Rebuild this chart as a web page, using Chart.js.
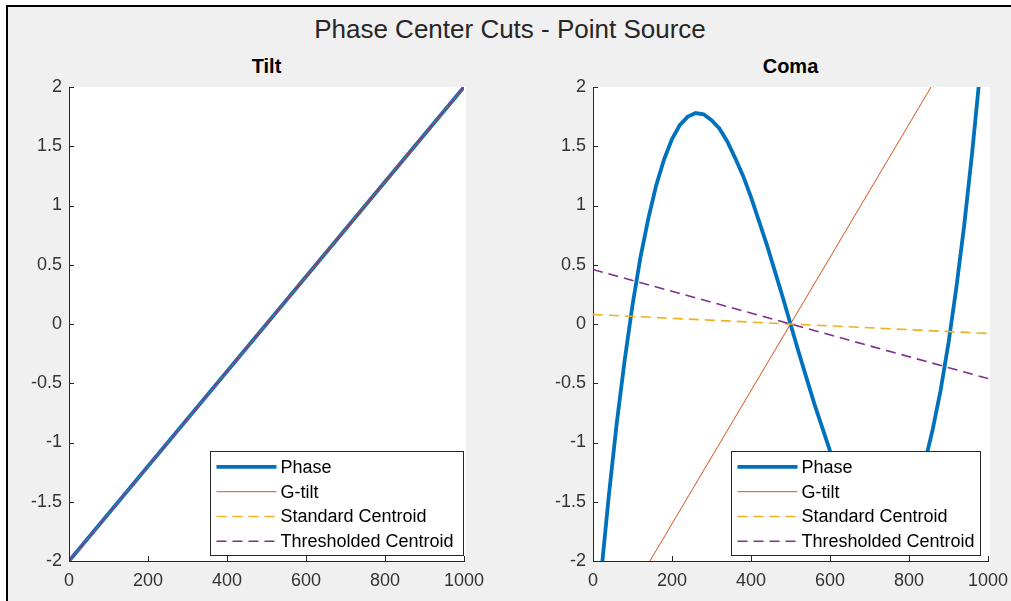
<!DOCTYPE html>
<html><head><meta charset="utf-8">
<script src="https://cdn.jsdelivr.net/npm/chart.js@4"></script>
<style>
html,body{margin:0;padding:0;background:#fff;width:1011px;height:601px;overflow:hidden;}
#fig{position:absolute;left:6px;top:5px;width:1005px;height:596px;background:#f0f0f0;border-left:2px solid #000;border-top:2px solid #000;box-sizing:border-box;}
#title{position:absolute;left:0;top:14px;width:1020px;text-align:center;font:26px "Liberation Sans",Arial,sans-serif;color:#262626;white-space:nowrap;}
.sub{position:absolute;top:55px;text-align:center;font:bold 20px "Liberation Sans",Arial,sans-serif;color:#000;white-space:nowrap;}
canvas{position:absolute;}
</style>
</head><body>
<div id="fig"></div>
<div id="title">Phase Center Cuts - Point Source</div>
<div class="sub" style="left:69px;width:395px;">Tilt</div>
<div class="sub" style="left:593px;width:395px;">Coma</div>
<canvas id="c1" width="495" height="556" style="left:10px;top:45px;"></canvas>
<canvas id="c2" width="500" height="556" style="left:520px;top:45px;"></canvas>
<script>
// ---- data ----
const seriesLabels = ["Phase", "G-tilt", "Standard Centroid", "Thresholded Centroid"];
const xTicks = [0, 200, 400, 600, 800, 1000];
const yTicks = [-2, -1.5, -1, -0.5, 0, 0.5, 1, 1.5, 2];

const tiltX = [0, 1000];
const tiltPhase = [-2, 2];
const tiltGTilt = [-2, 2];
const tiltStandard = [-2, 2];
const tiltThresholded = [-2, 2];

const comaX = [0,20,40,60,80,100,120,140,160,180,200,220,240,260,280,300,320,340,360,380,400,420,440,460,480,500,
  520,540,560,580,600,620,640,660,680,700,720,740,760,780,800,820,840,860,880,900,920,940,960,980,1000];
const comaPhase = [-2.89,-2.13,-1.45,-0.84,-0.31,0.16,0.56,0.89,1.17,1.39,1.56,1.68,1.75,1.78,1.77,1.72,1.65,1.54,1.40,1.25,1.07,0.87,0.67,0.45,0.23,0,
  -0.23,-0.45,-0.67,-0.87,-1.07,-1.25,-1.40,-1.54,-1.65,-1.72,-1.77,-1.78,-1.75,-1.68,-1.56,-1.39,-1.17,-0.89,-0.56,-0.16,0.31,0.84,1.45,2.13,2.89];
const comaLineX = [0, 1000];
const comaGTilt = [-2.81, 2.81];
const comaStandard = [0.08, -0.08];
const comaThresholded = [0.46, -0.46];

const colors = ["#0072BD", "#D95319", "#EDB120", "#7E2F8E"];
const widths = [3.8, 1, 1.6, 1.6];
const dashes = [[], [], [10, 6], [10, 6]];
const axisColor = "#262626";
const fontFam = '"Liberation Sans", Arial, sans-serif';

function pts(xs, ys) { return xs.map((x, i) => ({x: x, y: ys[i]})); }

const bgPlugin = {
  id: 'bg',
  beforeDraw(chart) {
    const a = chart.chartArea, ctx = chart.ctx;
    ctx.save(); ctx.fillStyle = '#fff';
    ctx.fillRect(a.left, a.top, a.right - a.left + 2, a.bottom - a.top);
    ctx.restore();
  }
};

const tickPlugin = {
  id: 'inTicks',
  afterDraw(chart) {
    const ctx = chart.ctx, a = chart.chartArea;
    const xs = chart.scales.x, ys = chart.scales.y;
    ctx.save(); ctx.strokeStyle = axisColor; ctx.lineWidth = 1;
    ctx.beginPath();
    xTicks.forEach(v => { const p = Math.round(xs.getPixelForValue(v)) + 0.5; ctx.moveTo(p, a.bottom); ctx.lineTo(p, a.bottom - 5); });
    yTicks.forEach(v => { const p = Math.round(ys.getPixelForValue(v)) + 0.5; ctx.moveTo(a.left, p); ctx.lineTo(a.left + 5, p); });
    ctx.stroke();
    ctx.restore();
  }
};

const legendPlugin = {
  id: 'inLegend',
  afterDraw(chart, args, opts) {
    const ctx = chart.ctx, a = chart.chartArea;
    ctx.save();
    ctx.font = '18px ' + fontFam;
    let tw = 0;
    seriesLabels.forEach(l => { tw = Math.max(tw, ctx.measureText(l).width); });
    const rowH = 24.8, sample = 60, padL = 6, gap = 4, padR = opts.padR || 7;
    const w = Math.round(padL + sample + gap + tw + padR);
    const h = 104;
    const right = a.right - (opts.inset || 1), bottom = a.bottom - 6;
    const left = Math.round(right - w) + 0.5, top = Math.round(bottom - h) + 0.5;
    ctx.fillStyle = '#fff';
    ctx.fillRect(left, top, w, h);
    ctx.strokeStyle = axisColor; ctx.lineWidth = 1;
    ctx.strokeRect(left, top, w, h);
    chart.data.datasets.forEach((ds, i) => {
      const cy = top + 3 + rowH * (i + 0.5);
      ctx.strokeStyle = ds.borderColor; ctx.lineWidth = ds.borderWidth;
      ctx.setLineDash(ds.borderDash || []);
      ctx.beginPath(); ctx.moveTo(left + padL, cy); ctx.lineTo(left + padL + sample, cy); ctx.stroke();
      ctx.setLineDash([]);
      ctx.fillStyle = '#000'; ctx.textBaseline = 'middle'; ctx.textAlign = 'left';
      ctx.fillText(ds.label, left + padL + sample + gap, cy + 1);
    });
    ctx.restore();
  }
};

function makeChart(id, series, yAxisWidth, padRight, legendInset, legendPadR) {
  const datasets = series.map((s, i) => ({
    label: seriesLabels[i],
    data: pts(s.x, s.y),
    borderColor: colors[i],
    backgroundColor: colors[i],
    borderWidth: widths[i],
    borderDash: dashes[i],
    pointRadius: 0,
    fill: false,
    tension: 0,
    order: 4 - i
  }));
  const tickFont = { family: fontFam, size: 18 };
  return new Chart(document.getElementById(id), {
    type: 'line',
    data: { datasets },
    options: {
      responsive: false,
      animation: false,
      events: [],
      layout: { padding: { top: 42, right: padRight, left: 0, bottom: 0 } },
      plugins: { legend: { display: false }, tooltip: { enabled: false }, title: { display: false }, inLegend: { inset: legendInset, padR: legendPadR } },
      scales: {
        x: {
          type: 'linear', min: 0, max: 1000,
          afterFit: s => { s.height = 40; },
          afterBuildTicks: s => { s.ticks = xTicks.map(v => ({value: v})); },
          grid: { drawOnChartArea: false, drawTicks: false },
          border: { display: true, color: axisColor, width: 1 },
          ticks: { padding: 9, color: '#333', font: tickFont, maxRotation: 0, autoSkip: false, callback: v => String(v) }
        },
        y: {
          type: 'linear', min: -2, max: 2,
          afterFit: s => { s.width = yAxisWidth; },
          afterBuildTicks: s => { s.ticks = yTicks.map(v => ({value: v})); },
          grid: { drawOnChartArea: false, drawTicks: false },
          border: { display: true, color: axisColor, width: 1 },
          ticks: { padding: 7, color: '#333', font: tickFont, autoSkip: false, callback: v => String(v) }
        }
      }
    },
    plugins: [bgPlugin, tickPlugin, legendPlugin]
  });
}

makeChart('c1', [
  {x: tiltX, y: tiltPhase},
  {x: tiltX, y: tiltGTilt},
  {x: tiltX, y: tiltStandard},
  {x: tiltX, y: tiltThresholded}
], 59, 41, 1, 10);

makeChart('c2', [
  {x: comaX, y: comaPhase},
  {x: comaLineX, y: comaGTilt},
  {x: comaLineX, y: comaStandard},
  {x: comaLineX, y: comaThresholded}
], 73, 32, 8, 6);
</script>
</body></html>
